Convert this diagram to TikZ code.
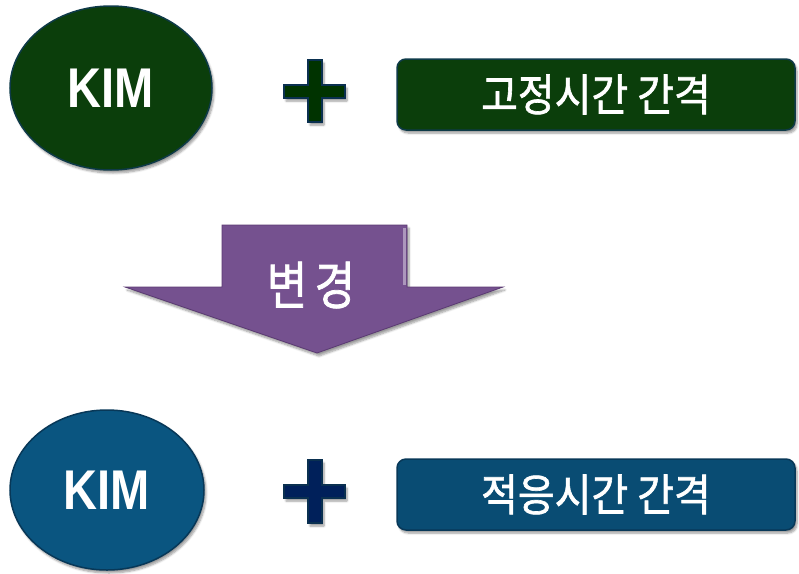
\documentclass[tikz,border=0pt]{standalone}
\usepackage{fontspec}
\setmainfont{Liberation Sans}
\newfontfamily\kr{Noto Sans CJK KR}[FakeBold=1.5]
\usetikzlibrary{shapes.geometric,shadows.blur}
\definecolor{gfill}{HTML}{0B3E0B}
\definecolor{gedge}{HTML}{0E3A48}
\definecolor{bfill}{HTML}{0A5580}
\definecolor{bedge}{HTML}{083858}
\definecolor{pgreen}{HTML}{003300}
\definecolor{pblue}{HTML}{00205A}
\definecolor{pedge}{HTML}{0A3050}
\definecolor{purp}{HTML}{75518F}
\definecolor{purpedge}{HTML}{5A3A72}
\tikzset{
  shad/.style={blur shadow={shadow xshift=2pt,shadow yshift=-3pt,shadow blur steps=6,shadow opacity=40}},
  kimnode/.style={ellipse,draw=#1,line width=1.5pt,shad,text=white,
     font=\bfseries\fontsize{56}{60}\selectfont,inner sep=0pt},
  boxnode/.style={rounded corners=9pt,draw=#1,line width=1.5pt,shad,text=white,
     minimum width=398pt,minimum height=71pt,font=\kr\fontsize{40}{44}\selectfont},
  plusshape/.style={draw=pedge,line width=1.5pt,shad},
}
\begin{document}
\begin{tikzpicture}[x=1pt,y=-1pt]
\useasboundingbox (0,0) rectangle (799,573);
% top row
\node[kimnode=gedge,fill=gfill,minimum width=202pt,minimum height=164pt] (kim1) at (111,88)
  {\scalebox{0.84}[1]{KIM}};
\draw[plusshape,fill=pgreen] (308,60) -- (322,60) -- (322,85) -- (345,85) -- (345,98) -- (322,98)
  -- (322,122) -- (308,122) -- (308,98) -- (284,98) -- (284,85) -- (308,85) -- cycle;
\node[boxnode=gedge,fill=gfill] (box1) at (596,94.5) {\scalebox{1}[1.1]{고정시간 간격}};
% arrow
\draw[fill=purp,draw=purpedge,line width=0.8pt,shad] (222,225) -- (407,225) -- (407,287) -- (503,287)
  -- (317,353) -- (125,287) -- (222,287) -- cycle;
\draw[draw=purp!60!white,line width=3pt] (404,228) -- (404,285);
\node[text=white,font=\kr\fontsize{44}{50}\selectfont] (chg) at (311,285) {\scalebox{1}[1.18]{변\,경}};
% bottom row
\node[kimnode=bedge,fill=bfill,minimum width=194pt,minimum height=160pt] (kim2) at (107,490)
  {\scalebox{0.84}[1]{KIM}};
\draw[plusshape,fill=pblue] (308,460) -- (322,460) -- (322,485) -- (345,485) -- (345,498) -- (322,498)
  -- (322,523) -- (308,523) -- (308,498) -- (284,498) -- (284,485) -- (308,485) -- cycle;
\node[boxnode=bedge,fill=bfill!90!black] (box2) at (596,494.5) {\scalebox{1}[1.1]{적응시간 간격}};
\end{tikzpicture}
\end{document}
